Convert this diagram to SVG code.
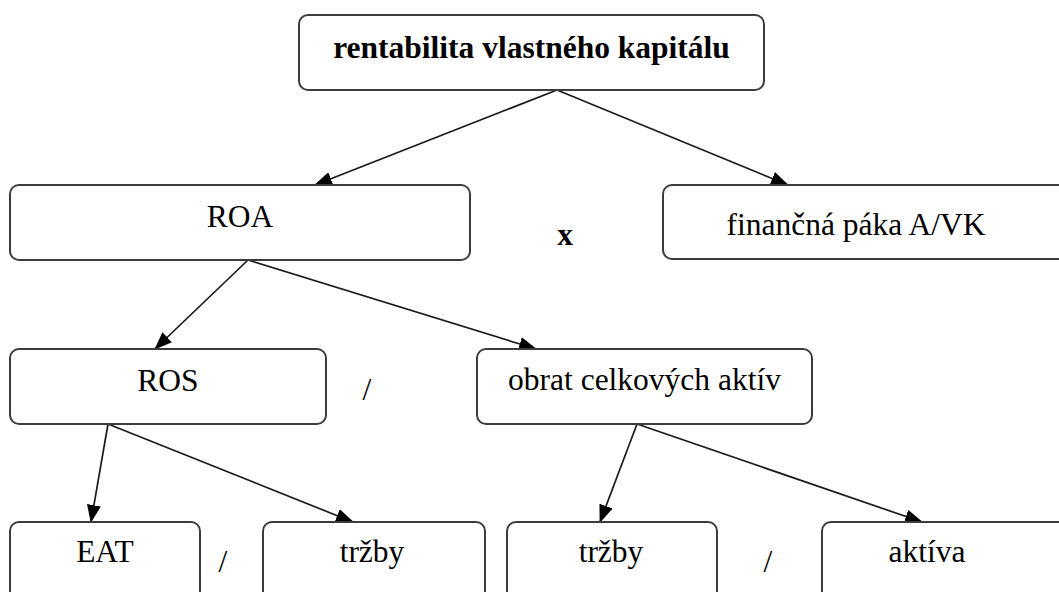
<svg xmlns="http://www.w3.org/2000/svg" width="1059" height="592" viewBox="0 0 1059 592">
  <style>
    .box { fill: #ffffff; stroke: #3c3c3c; stroke-width: 2; }
    .t { font-family: "Liberation Serif", "Times New Roman", serif; font-size: 31.5px; fill: #000; text-anchor: middle; }
    .b { font-weight: bold; font-size: 31.5px; }
    .edge { stroke: #1a1a1a; stroke-width: 1.7; fill: none; marker-end: url(#arrow); }
  </style>
  <defs>
    <marker id="arrow" markerUnits="userSpaceOnUse" markerWidth="18" markerHeight="14" refX="17" refY="7" orient="auto">
      <path d="M0,0 L18,7 L0,14 z" fill="#000"/>
    </marker>
  </defs>
  <rect width="1059" height="592" fill="#ffffff"/>

  <g id="connectors">
    <line class="edge" x1="557" y1="90" x2="315" y2="185"/>
    <line class="edge" x1="557" y1="90" x2="788" y2="185"/>
    <line class="edge" x1="248" y1="260" x2="155" y2="349"/>
    <line class="edge" x1="248" y1="260" x2="536" y2="349"/>
    <line class="edge" x1="108" y1="424" x2="91" y2="522"/>
    <line class="edge" x1="108" y1="424" x2="353" y2="522"/>
    <line class="edge" x1="637" y1="424" x2="600" y2="522"/>
    <line class="edge" x1="637" y1="424" x2="922" y2="522"/>
  </g>

  <g id="node-rvk">
    <rect class="box" x="299" y="15" width="465" height="75" rx="9"/>
    <text class="t b" x="531.5" y="58">rentabilita vlastného kapitálu</text>
  </g>
  <g id="node-roa">
    <rect class="box" x="10" y="185" width="460" height="75" rx="9"/>
    <text class="t" x="240" y="227">ROA</text>
  </g>
  <g id="op-x">
    <text class="t b" x="565" y="245">x</text>
  </g>
  <g id="node-fin">
    <rect class="box" x="663" y="185" width="420" height="74" rx="9"/>
    <text class="t" x="856" y="235">finančná páka A/VK</text>
  </g>
  <g id="node-ros">
    <rect class="box" x="10" y="349" width="316" height="75" rx="9"/>
    <text class="t" x="168" y="391">ROS</text>
  </g>
  <g id="op-div1">
    <text class="t" x="367" y="400">/</text>
  </g>
  <g id="node-obrat">
    <rect class="box" x="477" y="349" width="335" height="75" rx="9"/>
    <text class="t" x="644.5" y="390">obrat celkových aktív</text>
  </g>
  <g id="node-eat">
    <rect class="box" x="10" y="522" width="190" height="90" rx="9"/>
    <text class="t" x="105" y="562">EAT</text>
  </g>
  <g id="op-div2">
    <text class="t" x="223" y="572">/</text>
  </g>
  <g id="node-trzby1">
    <rect class="box" x="263" y="522" width="222" height="90" rx="9"/>
    <text class="t" x="372" y="562">tržby</text>
  </g>
  <g id="node-trzby2">
    <rect class="box" x="507" y="522" width="210" height="90" rx="9"/>
    <text class="t" x="611" y="562">tržby</text>
  </g>
  <g id="op-div3">
    <text class="t" x="768" y="572">/</text>
  </g>
  <g id="node-aktiva">
    <rect class="box" x="822" y="522" width="260" height="90" rx="9"/>
    <text class="t" x="927" y="562">aktíva</text>
  </g>
</svg>
